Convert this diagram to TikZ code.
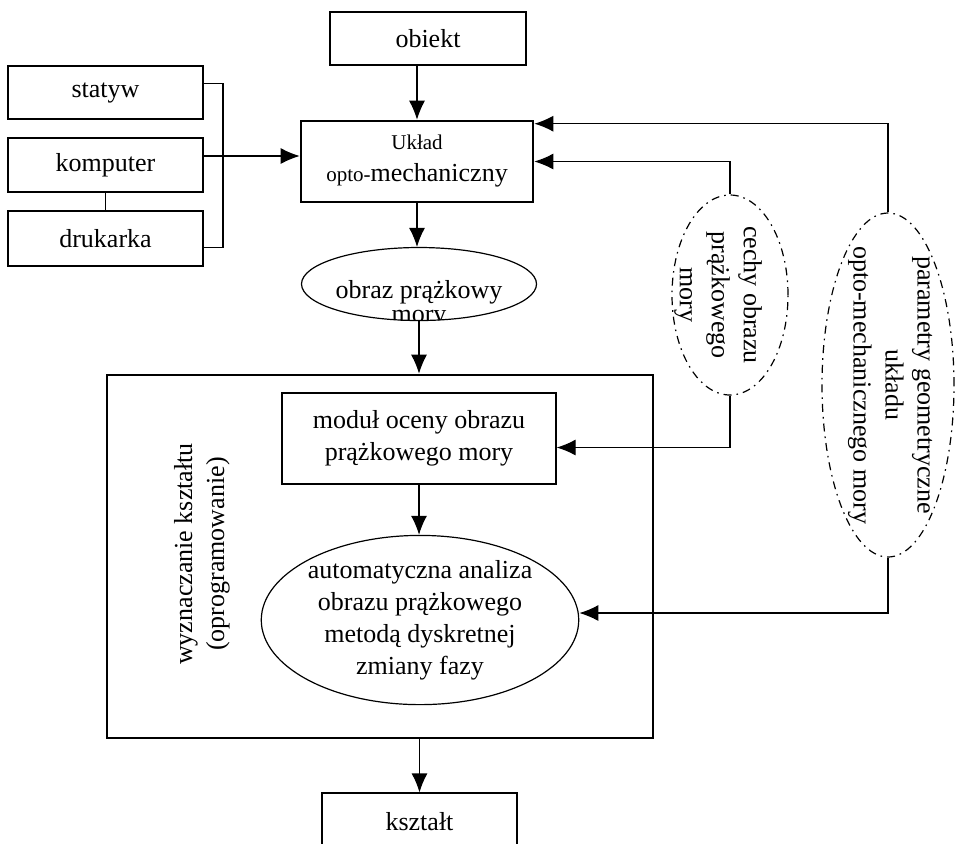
\documentclass[tikz,border=0pt]{standalone}
\usepackage{fontspec}
\setmainfont{Liberation Serif}
\usetikzlibrary{arrows.meta,shapes.geometric,positioning}

\tikzset{
  box/.style={draw, line width=0.6pt, inner sep=2pt, align=center},
  thickbox/.style={draw, line width=1.3pt, inner sep=2pt, align=center},
  oval/.style={draw, ellipse, line width=0.6pt, inner sep=0pt, align=center},
  dashoval/.style={draw, ellipse, line width=0.6pt, inner sep=0pt,
    dash pattern=on 4pt off 2.5pt on 0.8pt off 2.5pt},
  arr/.style={-{Latex[length=9.5pt,width=8pt]}, line width=0.6pt},
  link/.style={line width=0.6pt}
}

\begin{document}
\begin{tikzpicture}[x=0.5pt, y=-0.5pt, every node/.style={font=\fontsize{13}{16}\selectfont}]
            \useasboundingbox (0,0) rectangle (956,843);

            % Top part
            \node[box, minimum width=98pt, minimum height=26.5pt] (obiekt) at (428,38.5) {obiekt};
            \node[thickbox, minimum width=116pt, minimum height=40.5pt] (uklad) at (417,161.5)
              {{\fontsize{10.5}{15}\selectfont Układ}\\{\fontsize{10.5}{15}\selectfont opto-}mechaniczny};

            % Devices on the left
            \node[box, minimum width=97.5pt, minimum height=26.5pt] (statyw) at (105.5,92.5) {statyw};
            \node[box, minimum width=97.5pt, minimum height=27pt] (komputer) at (105.5,165) {komputer};
            \node[box, minimum width=97.5pt, minimum height=27.5pt] (drukarka) at (105.5,238.5) {drukarka};
            \coordinate (bus) at (223,0);

            % Fringe image
            \node[oval, minimum width=117.5pt, minimum height=36.5pt] (obraz) at (419,284) {};
            \begin{scope}
              \clip (obraz.center) ellipse (58.75pt and 18.25pt);
              \node[align=center, font=\fontsize{13}{12}\selectfont] (obraztxt) at (419,304) {obraz prążkowy\\mory};
            \end{scope}

            % Software block
            \node[thickbox, minimum width=273pt, minimum height=181.5pt] (soft) at (380,556.5) {};
            \node[rotate=90, align=center] (softtxt) at (202,554) {wyznaczanie kształtu\\(oprogramowanie)};
            \node[box, minimum width=137pt, minimum height=45.5pt] (modul) at (419,438.5)
              {moduł oceny obrazu\\prążkowego mory};
            \node[oval, minimum width=157pt, minimum height=82pt] (analiza) at (420,620)
              {automatyczna analiza\\obrazu prążkowego\\metodą dyskretnej\\zmiany fazy};
            \node[box, minimum width=97.5pt, minimum height=29pt] (ksztalt) at (419.5,822) {kształt};

            % Parameters on the right
            \node[dashoval, minimum width=58pt, minimum height=100pt,
              label={[xshift=-6pt, rotate=-90, align=center]center:cechy obrazu\\prążkowego\\mory}] (cechy) at (730,295) {};
            \node[dashoval, minimum width=66pt, minimum height=172pt,
              label={[xshift=1pt, rotate=-90, align=center]center:parametry geometryczne\\układu\\opto-mechanicznego mory}] (param) at (888,385) {};

            % Connecting lines
            \draw[arr] (obiekt.south -| uklad.north) -- (uklad.north);
            \draw[link] ([yshift=4.5pt]statyw.east) -| ([yshift=-4.5pt]drukarka.east -| bus) -- ([yshift=-4.5pt]drukarka.east);
            \draw[arr] ([yshift=4.5pt]komputer.east) -- ([yshift=4.5pt]komputer.east -| uklad.west);
            \draw[link] (komputer.south) -- (drukarka.north);
            \draw[arr] (uklad.south) -- (uklad.south |- obraz.north);
            \draw[arr] (obraz.south) -- (obraz.south |- soft.north);
            \draw[arr] (modul.south) -- (modul.south |- analiza.north);
            \draw[arr] (soft.south -| ksztalt.north) -- (ksztalt.north);

            \draw[arr] (cechy.north) |- (uklad.east);
            \draw[arr] (param.north) |- ([yshift=-2pt]uklad.north east);
            \draw[arr] (cechy.south) |- ([yshift=-4.5pt]modul.east);
            \draw[arr] (param.south) |- ([yshift=3.5pt]analiza.east);
        \end{tikzpicture}
\end{document}
